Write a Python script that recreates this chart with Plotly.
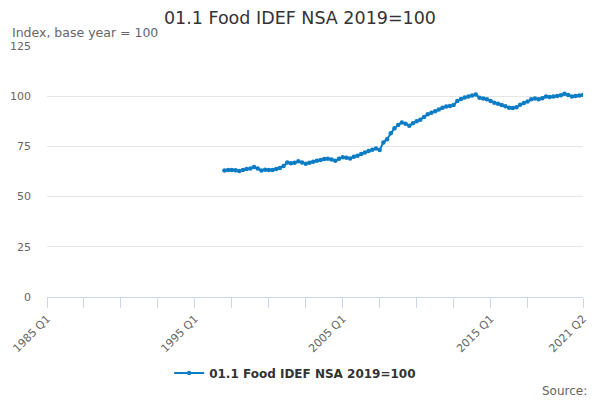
import plotly.graph_objects as go

# quarters from 1985 Q1 to 2021 Q2 (category axis)
quarters = [f"{y} Q{q}" for y in range(1985, 2022) for q in range(1, 5)][:146]

# index values, 1997 Q1 onwards
start_quarter = "1997 Q1"
food_idx = [
    63.0, 63.2, 63.3, 63.1,   # 1997
    62.8, 63.3, 63.7, 64.0,   # 1998
    64.8, 64.0, 63.0, 63.4,   # 1999
    63.2, 63.3, 63.8, 64.3,   # 2000
    65.2, 67.0, 66.6, 66.8,   # 2001
    67.6, 67.0, 66.4, 66.8,   # 2002
    67.4, 67.8, 68.2, 68.7,   # 2003
    68.9, 68.5, 67.8, 68.8,   # 2004
    69.6, 69.3, 69.0, 69.8,   # 2005
    70.3, 71.2, 72.0, 72.7,   # 2006
    73.3, 73.9, 73.2, 77.0,   # 2007
    78.5, 81.5, 84.0, 85.7,   # 2008
    86.9, 86.3, 85.3, 86.5,   # 2009
    87.5, 88.3, 89.6, 91.0,   # 2010
    91.8, 92.5, 93.4, 94.3,   # 2011
    94.9, 95.1, 95.6, 97.6,   # 2012
    98.6, 99.3, 99.9, 100.4,  # 2013
    100.9, 99.2, 98.8, 98.5,  # 2014
    97.6, 96.7, 96.2, 95.6,   # 2015
    95.0, 94.2, 94.1, 94.5,   # 2016
    95.8, 96.6, 97.3, 98.5,   # 2017
    98.9, 98.5, 99.0, 99.8,   # 2018
    99.6, 99.8, 100.1, 100.5, # 2019
    101.2, 100.6, 99.9, 100.1, # 2020
    100.4, 100.6,             # 2021
]

y_ticks = [0, 25, 50, 75, 100, 125]
tick_idx = list(range(0, 131, 10)) + [145]
label_idx = [0, 40, 80, 120, 145]

first = quarters.index(start_quarter)
x_vals = quarters[first:first + len(food_idx)]

fig = go.Figure()
fig.add_trace(go.Scatter(
    x=x_vals, y=food_idx,
    mode="lines+markers",
    name="01.1 Food IDEF NSA 2019=100",
    line=dict(color="#0c7cc4", width=2),
    marker=dict(color="#0c7cc4", size=4.5),
))

# page body has an 8px margin, so the figure is 592x392 and sits at (8, 8)
fig.update_layout(
    width=592, height=392,
    margin=dict(l=39, r=17, t=38, b=103),
    plot_bgcolor="white", paper_bgcolor="white",
    font=dict(family="DejaVu Sans", color="#666666", size=11),
    title=dict(text="01.1 Food IDEF NSA 2019=100", x=0.4932, xref="container",
               xanchor="center", y=0.9745, yanchor="middle",
               font=dict(size=17.5, color="#333333")),
    showlegend=True,
    legend=dict(orientation="h", x=0.463, xanchor="center", y=-0.303, yanchor="middle",
                itemwidth=30,
                font=dict(size=12, color="#333333", weight="bold")),
)

fig.update_xaxes(
    type="category", categoryorder="array", categoryarray=quarters,
    range=[0, 145], automargin=False,
    tickvals=[quarters[i] for i in tick_idx],
    ticktext=[quarters[i] if i in label_idx else "" for i in tick_idx],
    tickangle=-45, ticks="outside", ticklen=10, tickcolor="#ccd6eb",
    showline=True, linecolor="#ccd6eb", linewidth=1,
    showgrid=False, tickfont=dict(size=11, color="#666666"),
)
fig.update_yaxes(
    range=[0, 125], tickvals=y_ticks, automargin=False,
    showgrid=True, gridcolor="#e6e6e6", zeroline=False,
    tickfont=dict(size=11, color="#666666"), ticklen=0,
    ticklabelstandoff=15,
)

fig.add_annotation(text="Index, base year = 100", xref="paper", yref="paper",
                   x=-0.069, y=1.052, xanchor="left", yanchor="middle",
                   showarrow=False, font=dict(size=12.5, color="#666666"))
fig.add_annotation(text="Source:", xref="paper", yref="paper",
                   x=1.011, y=-0.375, xanchor="right", yanchor="middle",
                   showarrow=False, font=dict(size=12, color="#666666"))

fig.write_html("out.html")
